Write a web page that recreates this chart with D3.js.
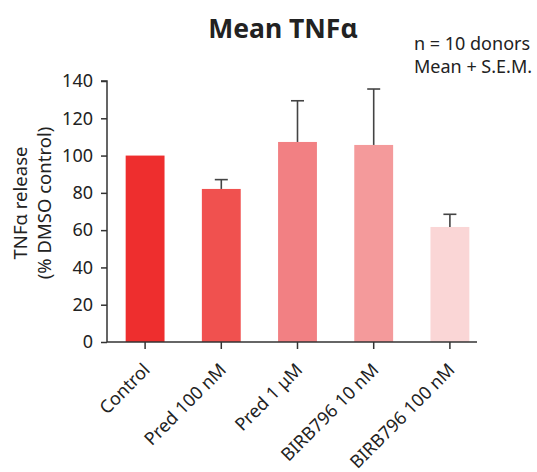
<!DOCTYPE html>
<html>
<head>
<meta charset="utf-8">
<script src="https://cdn.jsdelivr.net/npm/d3@7"></script>
<style>
  body { margin: 0; background: #fff; }
  svg text { font-family: "Noto Sans", "Open Sans", sans-serif; fill: #222; }
</style>
</head>
<body>
<div id="chart"></div>
<script>
var categories = ["Control", "Pred 100 nM", "Pred 1 \u03bcM", "BIRB796 10 nM", "BIRB796 100 nM"],
    means = [100, 82.1, 107.3, 105.7, 61.7],
    sems = [0, 5.0, 22.1, 30.0, 6.8],
    colors = ["#ee2e2e", "#f0514f", "#f28083", "#f49a9b", "#fad6d6"],
    yTicks = [0, 20, 40, 60, 80, 100, 120, 140];

var width = 537, height = 472;

var svg = d3.select("#chart").append("svg")
    .attr("width", width)
    .attr("height", height);

var x = d3.scaleBand()
    .domain(categories)
    .range([107, 488])
    .paddingInner(0.49)
    .paddingOuter(0.245);

var y = d3.scaleLinear()
    .domain([0, 140])
    .range([342, 81]);

// bars
svg.selectAll("rect.bar")
    .data(categories)
  .enter().append("rect")
    .attr("class", "bar")
    .attr("x", function(d) { return x(d); })
    .attr("y", function(d, i) { return y(means[i]); })
    .attr("width", x.bandwidth())
    .attr("height", function(d, i) { return y(0) - y(means[i]); })
    .attr("fill", function(d, i) { return colors[i]; });

// error bars (upper only)
var err = svg.selectAll("g.err")
    .data(categories.filter(function(d, i) { return sems[i] > 0; }))
  .enter().append("g")
    .attr("class", "err")
    .attr("stroke", "#444")
    .attr("stroke-width", 1.6);

err.append("line")
    .attr("x1", function(d) { return x(d) + x.bandwidth() / 2; })
    .attr("x2", function(d) { return x(d) + x.bandwidth() / 2; })
    .attr("y1", function(d) { var i = categories.indexOf(d); return y(means[i]); })
    .attr("y2", function(d) { var i = categories.indexOf(d); return y(means[i] + sems[i]); });

err.append("line")
    .attr("x1", function(d) { return x(d) + x.bandwidth() / 2 - 6.5; })
    .attr("x2", function(d) { return x(d) + x.bandwidth() / 2 + 6.5; })
    .attr("y1", function(d) { var i = categories.indexOf(d); return y(means[i] + sems[i]); })
    .attr("y2", function(d) { var i = categories.indexOf(d); return y(means[i] + sems[i]); });

// y axis
var yAxis = svg.append("g")
    .attr("transform", "translate(107,0)")
    .call(d3.axisLeft(y).tickValues(yTicks).tickSize(6).tickPadding(8));
yAxis.select(".domain").attr("stroke", "#333").attr("stroke-width", 1.5)
    .attr("d", "M-6," + y(140) + "H0V" + y(0));
yAxis.selectAll(".tick line").attr("stroke", "#333").attr("stroke-width", 1.5);
yAxis.selectAll(".tick text").style("font-size", "18px").attr("fill", "#222");

// x axis
var xAxis = svg.append("g")
    .attr("transform", "translate(0,342)")
    .call(d3.axisBottom(x).tickSize(7).tickFormat(""));
xAxis.select(".domain").attr("stroke", "#333").attr("stroke-width", 1.5)
    .attr("d", "M107,0H477");
xAxis.selectAll(".tick line").attr("stroke", "#333").attr("stroke-width", 1.5);

svg.append("g").selectAll("text")
    .data(categories)
  .enter().append("text")
    .attr("transform", function(d) {
      return "translate(" + (x(d) + x.bandwidth() / 2 + 6) + ",371) rotate(-45)";
    })
    .attr("text-anchor", "end")
    .style("font-size", "18px")
    .text(function(d) { return d; });

// y axis title
var yTitle = svg.append("text")
    .attr("transform", "translate(0,203) rotate(-90)")
    .attr("text-anchor", "middle")
    .style("font-size", "18.5px");
yTitle.append("tspan").attr("x", 0).attr("y", 27).text("TNF\u03b1 release");
yTitle.append("tspan").attr("x", 0).attr("y", 51).text("(% DMSO control)");

// title
svg.append("text")
    .attr("x", 283)
    .attr("y", 38)
    .attr("text-anchor", "middle")
    .style("font-size", "26.5px")
    .style("font-weight", "bold")
    .text("Mean TNF\u03b1");

svg.append("text")
    .attr("x", 414)
    .attr("y", 50)
    .style("font-size", "18px")
    .text("n = 10 donors");
svg.append("text")
    .attr("x", 414)
    .attr("y", 73)
    .style("font-size", "18px")
    .text("Mean + S.E.M.");
</script>
</body>
</html>
